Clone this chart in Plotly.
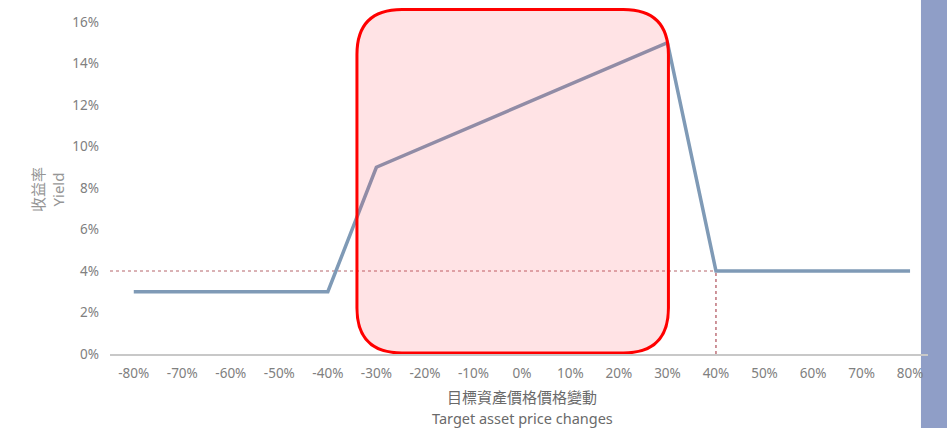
import plotly.graph_objects as go

# Data
price_change = [-80, -70, -60, -50, -40, -30, -20, -10, 0, 10, 20, 30, 40, 50, 60, 70, 80]
yield_pct = [3, 3, 3, 3, 3, 9, 10, 11, 12, 13, 14, 15, 4, 4, 4, 4, 4]
x_ticks = [-80, -70, -60, -50, -40, -30, -20, -10, 0, 10, 20, 30, 40, 50, 60, 70, 80]
x_tick_labels = [f"{v}%" for v in x_ticks]
y_ticks = [0, 2, 4, 6, 8, 10, 12, 14, 16]
y_tick_labels = [f"{v}%" for v in y_ticks]
ref_yield = 4
ref_change = 40
highlight_x = [-34, 30.2]
highlight_y = [0.05, 16.6]

XR = [-84.9, 83.7]
YR = [0, 16.82]
FONT = "Noto Sans, Noto Sans CJK TC, sans-serif"

fig = go.Figure()
fig.add_trace(go.Scatter(
    x=price_change, y=yield_pct, mode="lines",
    line=dict(color="#7F9AB6", width=3.5), hoverinfo="skip", showlegend=False))

# rounded rectangle in data coords (radius ~45px)
x0, x1 = highlight_x
y0, y1 = highlight_y
rx = 45 / 4.85
ry = 45 / 20.75
path = (f"M {x0+rx},{y1} L {x1-rx},{y1} Q {x1},{y1} {x1},{y1-ry} "
        f"L {x1},{y0+ry} Q {x1},{y0} {x1-rx},{y0} "
        f"L {x0+rx},{y0} Q {x0},{y0} {x0},{y0+ry} "
        f"L {x0},{y1-ry} Q {x0},{y1} {x0+rx},{y1} Z")

shapes = [
    dict(type="rect", xref="paper", yref="paper", x0=0.9914, x1=1.03, y0=-0.3, y1=1.1,
         fillcolor="#8F9EC7", line=dict(width=0), layer="below"),
    dict(type="line", xref="x", yref="y", x0=XR[0], x1=ref_change, y0=ref_yield, y1=ref_yield,
         line=dict(color="#B5656A", width=1, dash="dot"), layer="below"),
    dict(type="line", xref="x", yref="y", x0=ref_change, x1=ref_change, y0=0, y1=ref_yield,
         line=dict(color="#9E2A36", width=1, dash="dot"), layer="below"),
    dict(type="path", xref="x", yref="y", path=path,
         fillcolor="rgba(255,60,70,0.14)", line=dict(color="#FF0000", width=3), layer="above"),
]

PW, PH = 818, 349
annotations = [
    dict(text="目標資產價格價格變動", xref="paper", yref="paper", x=(522 - 110) / PW, y=-43 / PH,
         showarrow=False, xanchor="center", yanchor="middle",
         font=dict(size=15, color="#6A6A6A")),
    dict(text="Target asset price changes", xref="paper", yref="paper", x=(522 - 110) / PW,
         y=-64 / PH, showarrow=False, xanchor="center", yanchor="middle",
         font=dict(size=14.5, color="#6A6A6A")),
    dict(text="收益率<br>Yield", xref="paper", yref="paper", x=(48 - 110) / PW,
         y=(354 - 190) / PH, showarrow=False, xanchor="center", yanchor="middle",
         textangle=-90, font=dict(size=15, color="#959595")),
]

fig.update_layout(
    width=947, height=428,
    margin=dict(l=110, r=19, t=5, b=74, autoexpand=False),
    paper_bgcolor="white", plot_bgcolor="white",
    font=dict(family=FONT, color="#808080", size=13),
    shapes=shapes,
    annotations=annotations,
    xaxis=dict(range=XR, tickvals=x_ticks, ticktext=x_tick_labels, showgrid=False,
               zeroline=False, showline=True, linecolor="#C8C8C8", linewidth=1.5,
               ticks="", ticklen=0, tickfont=dict(size=13.5, color="#808080"),
               ticklabelstandoff=6, automargin=False),
    yaxis=dict(range=YR, tickvals=y_ticks, ticktext=y_tick_labels, showgrid=False,
               zeroline=False, showline=False, ticks="", tickfont=dict(size=13.5, color="#808080"),
               ticklabelstandoff=10, automargin=False),
)

fig.write_html("out.html", config={"displayModeBar": False},
               post_script="document.body.style.margin='0';document.body.style.overflow='hidden';")
